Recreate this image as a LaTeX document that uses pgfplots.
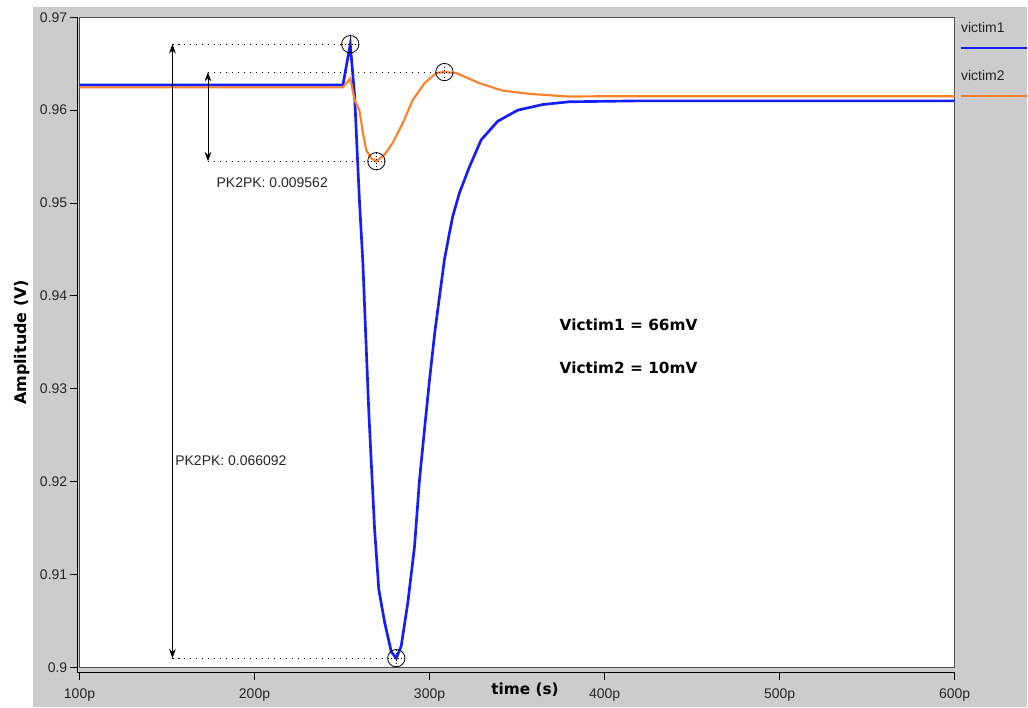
\documentclass[border=0pt]{standalone}
\usepackage{fontspec}
\setmainfont{Liberation Sans}
\newfontfamily\dvs{DejaVu Sans}
\usepackage{pgfplots}
\pgfplotsset{compat=1.18}
\usetikzlibrary{arrows.meta}

\definecolor{bgray}{RGB}{204,204,204}
\definecolor{vblue}{RGB}{20,30,250}
\definecolor{vorange}{RGB}{255,128,40}
\definecolor{boxline}{RGB}{80,80,80}

\begin{document}
\begin{tikzpicture}
% page background: white strip left/top, grey panel behind the plot
\fill[white] (-59.7pt,-29.8pt) rectangle (711.3pt,501.2pt);
\fill[bgray] (-34.95pt,-29.8pt) rectangle (711.3pt,496pt);

\begin{axis}[
  at={(0,0)}, anchor=south west,
  scale only axis, width=657.1pt, height=488.25pt,
  xmin=100, xmax=600, ymin=0.90, ymax=0.97,
  axis background/.style={fill=white},
  axis line style={boxline, line width=0.75pt},
  xtick={100,200,300,400,500,600},
  xticklabels={100p,200p,300p,400p,500p,600p},
  ytick={0.90,0.91,0.92,0.93,0.94,0.95,0.96,0.97},
  yticklabels={0.9,0.91,0.92,0.93,0.94,0.95,0.96,0.97},
  tick align=outside, tick pos=left,
  major tick length=5.7pt,
  tick style={black, line width=0.75pt},
  xtick style={yshift=-3.75pt},
  ytick style={xshift=-1.7pt},
  xticklabel style={yshift=-7pt},
  ticklabel style={font=\fontsize{10.5}{12}\selectfont, text=black!85},
  xlabel={time (s)}, ylabel={Amplitude (V)},
  xlabel style={font=\dvs\bfseries\fontsize{11.5}{13}\selectfont,
    at={(axis description cs:0.509,0)}, anchor=center, yshift=-16.3pt},
  ylabel style={font=\dvs\bfseries\fontsize{12}{14}\selectfont,
    at={(axis description cs:-0.0657,0.5)}, anchor=center},
]
\addplot[vblue, line width=2pt] coordinates {
 (100,0.9627) (250.5,0.9627) (254.7,0.9671) (257.2,0.9615) (259.9,0.9504)
 (261.9,0.9436) (263.4,0.9364) (265.3,0.9275) (266.7,0.9221) (268.6,0.9149)
 (271.0,0.9084) (274.3,0.9049) (278.1,0.9017) (281.0,0.9010) (283.8,0.9023)
 (287.6,0.9070) (291.4,0.9130) (294.3,0.9203) (297.1,0.9256) (300.0,0.9310)
 (303.2,0.9364) (308.5,0.9439) (311.4,0.9468) (313.3,0.9486) (317.1,0.9511)
 (322.8,0.9539) (329.5,0.9568) (338.9,0.9588) (350.4,0.9600) (364.6,0.9606)
 (379.8,0.9609) (420,0.9610) (600,0.9610)};
\addplot[vorange, line width=1.6pt] coordinates {
 (100,0.96245) (250.5,0.96245) (254.7,0.9634) (257.2,0.9611) (259.9,0.9600)
 (261.9,0.9576) (263.8,0.9557) (266.7,0.9548) (269.6,0.9545) (274.3,0.9552)
 (279.0,0.9565) (284.7,0.9586) (290.4,0.9611) (297.1,0.9629) (303.8,0.9640)
 (308.5,0.9641) (315.2,0.9640) (328.5,0.9629) (341.8,0.9621) (357.0,0.96175)
 (379.8,0.96146) (400,0.9615) (600,0.9615)};

% peak markers
\addplot[only marks, mark=o, mark size=6.5pt, mark options={black, line width=0.6pt}]
 coordinates {(254.7,0.9671) (281.0,0.9010) (269.6,0.9545) (308.5,0.9641)};
\addplot[only marks, mark=+, mark size=6.5pt, mark options={black, line width=0.5pt, dotted}]
 coordinates {(254.7,0.9671) (281.0,0.9010) (269.6,0.9545) (308.5,0.9641)};

% pk2pk guides
\draw[black, dash pattern=on 0.8pt off 3.7pt] (axis cs:153.1,0.9671) -- (axis cs:249.6,0.9671);
\draw[black, dash pattern=on 0.8pt off 3.7pt] (axis cs:153.1,0.9010) -- (axis cs:275.8,0.9010);
\draw[black, dash pattern=on 0.8pt off 3.7pt] (axis cs:173.4,0.9641) -- (axis cs:303.4,0.9641);
\draw[black, dash pattern=on 0.8pt off 3.7pt] (axis cs:173.4,0.9545) -- (axis cs:264.4,0.9545);
\draw[black, line width=0.6pt, {Stealth[length=7pt,width=5pt]}-{Stealth[length=7pt,width=5pt]}]
 (axis cs:153.1,0.9671) -- (axis cs:153.1,0.9010);
\draw[black, line width=0.6pt, {Stealth[length=7pt,width=5pt]}-{Stealth[length=7pt,width=5pt]}]
 (axis cs:173.4,0.9641) -- (axis cs:173.4,0.9545);

\node[anchor=west, inner sep=0pt, font=\fontsize{10.5}{12}\selectfont, text=black!85]
 at (axis cs:178.2,0.95215) {PK2PK: 0.009562};
\node[anchor=west, inner sep=0pt, font=\fontsize{10.5}{12}\selectfont, text=black!85]
 at (axis cs:154.6,0.92222) {PK2PK: 0.066092};
\node[anchor=west, inner sep=0pt, font=\dvs\bfseries\fontsize{11.5}{13}\selectfont]
 at (axis cs:374.2,0.93691) {Victim1 = 66mV};
\node[anchor=west, inner sep=0pt, font=\dvs\bfseries\fontsize{11.5}{13}\selectfont]
 at (axis cs:374.2,0.93226) {Victim2 = 10mV};
\end{axis}

% offset axis lines
\draw[black, line width=0.75pt] (-1.7pt,488.25pt) -- (-1.7pt,-3.75pt) -- (657.1pt,-3.75pt);

% legend panel
\node[anchor=west, inner sep=0pt, font=\fontsize{10.5}{12}\selectfont, text=black!85]
 at (661.8pt,480.2pt) {victim1};
\draw[vblue, line width=1.8pt] (661.8pt,465.2pt) -- (711.3pt,465.2pt);
\node[anchor=west, inner sep=0pt, font=\fontsize{10.5}{12}\selectfont, text=black!85]
 at (661.8pt,444.2pt) {victim2};
\draw[vorange, line width=1.8pt] (661.8pt,429.2pt) -- (711.3pt,429.2pt);
\end{tikzpicture}
\end{document}
